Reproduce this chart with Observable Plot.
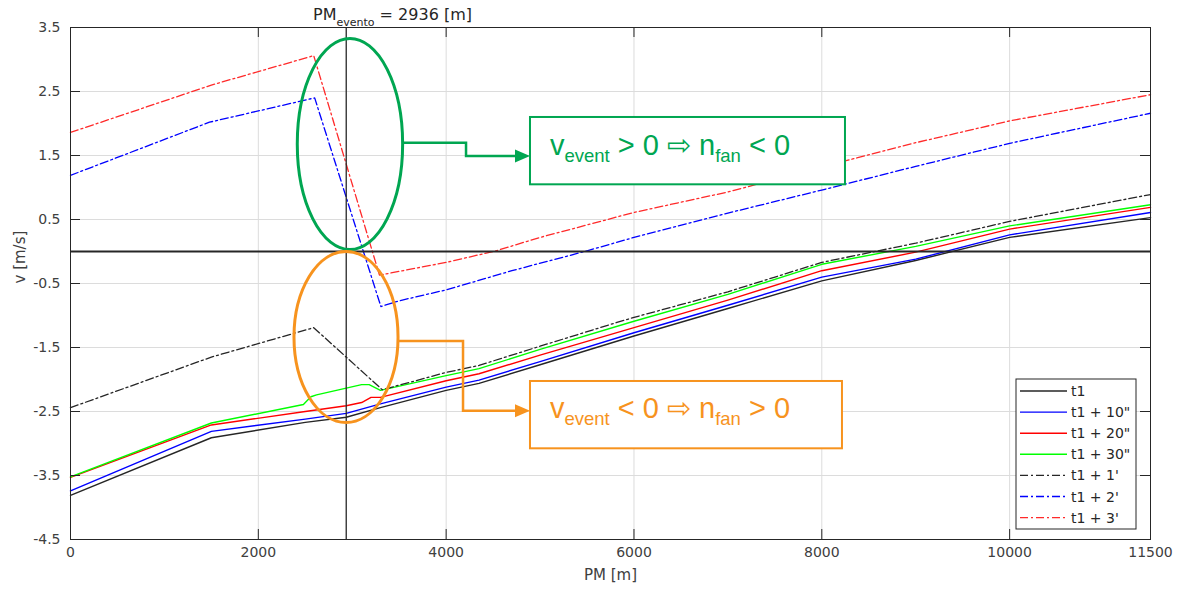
<!DOCTYPE html>
<html><head><meta charset="utf-8">
<script src="https://cdn.jsdelivr.net/npm/d3@7"></script>
<script src="https://cdn.jsdelivr.net/npm/@observablehq/plot@0.6"></script>
<style>body{margin:0;background:#fff} svg{display:block} text{white-space:pre}</style>
</head><body><div id="chart"></div>
<script>
// ---------- data ----------
const seriesNames = ["t1", "t1 + 10\"", "t1 + 20\"", "t1 + 30\"", "t1 + 1'", "t1 + 2'", "t1 + 3'"];

const pm_t1  = [0, 1500, 2500, 2936, 3300, 4000, 4350, 5000, 6000, 7000, 8000, 9000, 10000, 11500];
const v_t1   = [-3.81, -2.91, -2.67, -2.59, -2.44, -2.17, -2.06, -1.77, -1.32, -0.89, -0.46, -0.14, 0.22, 0.53];

const pm_t10 = [0, 1500, 2500, 2936, 3300, 4000, 4350, 5000, 6000, 7000, 8000, 9000, 10000, 11500];
const v_t10  = [-3.74, -2.81, -2.62, -2.53, -2.38, -2.12, -2.01, -1.72, -1.27, -0.84, -0.40, -0.12, 0.26, 0.61];

const pm_t20 = [0, 1500, 2500, 2936, 3100, 3200, 3300, 4000, 4350, 5000, 6000, 7000, 8000, 9000, 10000, 11500];
const v_t20  = [-3.53, -2.71, -2.50, -2.41, -2.36, -2.28, -2.28, -2.02, -1.91, -1.62, -1.19, -0.76, -0.30, -0.01, 0.35, 0.69];

const pm_t30 = [0, 1500, 2480, 2560, 2620, 3100, 3180, 3300, 4000, 4350, 5000, 6000, 7000, 8000, 9000, 10000, 11500];
const v_t30  = [-3.52, -2.68, -2.39, -2.27, -2.24, -2.08, -2.08, -2.17, -1.94, -1.83, -1.53, -1.09, -0.67, -0.20, 0.08, 0.40, 0.73];

const pm_t1m = [0, 1500, 2590, 3320, 4000, 4350, 5000, 5770, 6000, 7000, 8000, 9000, 10000, 11500];
const v_t1m  = [-2.44, -1.65, -1.19, -2.16, -1.89, -1.78, -1.48, -1.13, -1.03, -0.63, -0.17, 0.13, 0.47, 0.89];

const pm_t2m = [0, 1480, 2600, 3305, 3500, 4000, 4700, 5500, 6000, 7000, 8000, 9000, 10000, 11500];
const v_t2m  = [1.19, 2.02, 2.40, -0.86, -0.77, -0.60, -0.30, 0.01, 0.22, 0.60, 0.96, 1.33, 1.69, 2.16];

const pm_t3m = [0, 1500, 2590, 3290, 4000, 4530, 5000, 6000, 7000, 8000, 9000, 10000, 11500];
const v_t3m  = [1.86, 2.60, 3.06, -0.37, -0.17, 0.01, 0.22, 0.61, 0.93, 1.32, 1.70, 2.04, 2.45];

const xTicks = [0, 2000, 4000, 6000, 8000, 10000, 11500];
const yTicks = [-4.5, -3.5, -2.5, -1.5, -0.5, 0.5, 1.5, 2.5, 3.5];
const pmEvento = 2936;

// ---------- styles ----------
const seriesPm = [pm_t1, pm_t10, pm_t20, pm_t30, pm_t1m, pm_t2m, pm_t3m];
const seriesV  = [v_t1, v_t10, v_t20, v_t30, v_t1m, v_t2m, v_t3m];
const colors = ["#262626", "#0000ff", "#ff0000", "#00ff00", "#262626", "#0000ff", "#ff2a2a"];
const dashes = [null, null, null, null, "8,3,2,3", "8,3,2,3", "8,3,2,3"];
const GREEN = "#00a651", ORANGE = "#f7931e";
const TXT = "#404040";

const rows = [];
seriesNames.forEach((name, i) => seriesPm[i].forEach((p, j) => rows.push({series: name, pm: p, v: seriesV[i][j]})));

const W = 1186, H = 597, mL = 70, mR = 36, mT = 27, mB = 58;
const innerW = W - mL - mR, innerH = H - mT - mB;

// annotation geometry (data units)
const annotations = [
  {color: GREEN, ell: {cx: 2981, cy: 1.672, rx: 561, ry: 1.648},
   path: [[3535, 1.692], [4217, 1.692], [4217, 1.484], [4898, 1.484]],
   box: {x1: 4898, x2: 8252, y1: 1.042, y2: 2.094},
   text: {x: 5111, y: 1.50}, parts: [["v"], ["event", 1], [" > 0 \u21E8 n"], ["fan", 1], [" < 0"]]},
  {color: ORANGE, ell: {cx: 2939, cy: -1.344, rx: 554, ry: 1.336},
   path: [[3493, -1.406], [4185, -1.406], [4185, -2.495], [4898, -2.495]],
   box: {x1: 4898, x2: 8220, y1: -3.083, y2: -2.031},
   text: {x: 5111, y: -2.605}, parts: [["v"], ["event", 1], [" < 0 \u21E8 n"], ["fan", 1], [" > 0"]]}
];

function richText(g, x, y, parts, o) {
  const t = g.append("text").attr("x", x).attr("y", y).attr("fill", o.fill)
    .attr("text-anchor", "start")
    .attr("font-family", o.family).attr("font-size", o.size);
  let shifted = false;
  parts.forEach(([s, sub]) => {
    const ts = t.append("tspan").text(s);
    if (sub) { ts.attr("font-size", o.subSize).attr("dy", o.shift); shifted = true; }
    else if (shifted) { ts.attr("dy", -o.shift); shifted = false; }
  });
  return t;
}

function annotationMark(a) {
  return (index, scales, values, dims, ctx) => {
    const {x, y} = scales;
    const g = d3.create("svg:g");
    const cx = x(a.ell.cx), cy = y(a.ell.cy);
    g.append("ellipse").attr("cx", cx).attr("cy", cy)
      .attr("rx", x(a.ell.cx + a.ell.rx) - cx).attr("ry", y(a.ell.cy - a.ell.ry) - cy)
      .attr("fill", "none").attr("stroke", a.color).attr("stroke-width", 3);
    const pts = a.path.map(([px, py]) => [x(px), y(py)]);
    const end = pts[pts.length - 1];
    const head = 15, half = 6.5;
    const linePts = pts.slice(0, -1).concat([[end[0] - head, end[1]]]);
    g.append("path").attr("d", d3.line()(linePts)).attr("fill", "none")
      .attr("stroke", a.color).attr("stroke-width", 2.5);
    g.append("path").attr("d", `M${end[0] - head},${end[1] - half}L${end[0]},${end[1]}L${end[0] - head},${end[1] + half}Z`)
      .attr("fill", a.color);
    g.append("rect").attr("x", x(a.box.x1)).attr("y", y(a.box.y2))
      .attr("width", x(a.box.x2) - x(a.box.x1)).attr("height", y(a.box.y1) - y(a.box.y2))
      .attr("fill", "white").attr("stroke", a.color).attr("stroke-width", 2);
    richText(g, x(a.text.x), y(a.text.y), a.parts,
      {fill: a.color, family: "Liberation Sans, Arial, sans-serif", size: 29, subSize: 18.5, shift: 7});
    return g.node();
  };
}

function titleMark(index, scales, values, dims) {
  const g = d3.create("svg:g");
  richText(g, dims.marginLeft + 243, 19.5, [["PM"], ["evento", 1], [" = 2936 [m]"]],
    {fill: "#262626", family: "DejaVu Sans, sans-serif", size: 16, subSize: 11, shift: 6});
  return g.node();
}

function legendMark(index, scales, values, dims) {
  const g = d3.create("svg:g");
  const right = dims.width - dims.marginRight - 14, bottom = dims.height - dims.marginBottom - 10;
  const bw = 120, bh = 150, left = right - bw, top = bottom - bh;
  g.append("rect").attr("x", left).attr("y", top).attr("width", bw).attr("height", bh)
    .attr("fill", "white").attr("stroke", "#262626").attr("stroke-width", 1);
  seriesNames.forEach((name, i) => {
    const yy = top + 12 + i * 21.1;
    g.append("line").attr("x1", left + 4).attr("x2", left + 51).attr("y1", yy).attr("y2", yy)
      .attr("stroke", colors[i]).attr("stroke-width", 1.4).attr("stroke-dasharray", dashes[i]);
    g.append("text").attr("x", left + 55).attr("y", yy).attr("dy", "0.36em").attr("text-anchor", "start")
      .attr("font-family", "DejaVu Sans, sans-serif").attr("font-size", 14).attr("fill", "#262626").text(name);
  });
  return g.node();
}

const lineMarks = seriesNames.map((name, i) =>
  Plot.line(rows.filter(d => d.series === name), {
    x: "pm", y: "v", stroke: colors[i], strokeWidth: dashes[i] ? 1.3 : 1.4,
    strokeDasharray: dashes[i] || undefined
  }));

const chart = Plot.plot({
  width: W, height: H, marginLeft: mL, marginRight: mR, marginTop: mT, marginBottom: mB,
  style: {fontFamily: "DejaVu Sans, sans-serif", fontSize: "14px", background: "white", overflow: "visible"},
  x: {domain: [0, 11500], label: null},
  y: {domain: [-4.5, 3.5], label: null},
  marks: [
    Plot.gridX(xTicks.slice(1, -1), {stroke: "#dcdcdc", strokeOpacity: 1}),
    Plot.gridY(yTicks.slice(1, -1), {stroke: "#dcdcdc", strokeOpacity: 1}),
    ...lineMarks,
    Plot.ruleY([0], {stroke: "#262626", strokeWidth: 2}),
    Plot.ruleX([pmEvento], {stroke: "#262626", strokeWidth: 1.3}),
    // inward ticks on all four sides
    Plot.ruleX(xTicks, {insetTop: innerH - 10, stroke: "#262626"}),
    Plot.ruleX(xTicks, {insetBottom: innerH - 10, stroke: "#262626"}),
    Plot.ruleY(yTicks, {insetRight: innerW - 10, stroke: "#262626"}),
    Plot.ruleY(yTicks, {insetLeft: innerW - 10, stroke: "#262626"}),
    Plot.frame({stroke: "#262626"}),
    Plot.axisX(xTicks, {tickSize: 0, tickPadding: 8, fontSize: 14, fill: TXT, label: null, tickFormat: d => String(d)}),
    Plot.axisY(yTicks, {tickSize: 0, tickPadding: 10, fontSize: 14, fill: TXT, label: null, tickFormat: d => String(d)}),
    Plot.text(["PM [m]"], {frameAnchor: "bottom", dy: 40, fontSize: 15, fill: TXT}),
    Plot.text(["v [m/s]"], {frameAnchor: "left", dx: -50, rotate: -90, fontSize: 15, fill: TXT}),
    ...annotations.map(annotationMark),
    titleMark,
    legendMark
  ]
});
document.getElementById("chart").appendChild(chart);
</script></body></html>
